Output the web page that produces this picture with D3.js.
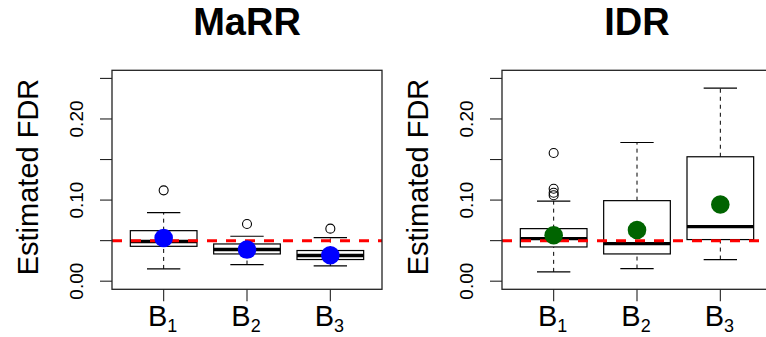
<!DOCTYPE html>
<html>
<head>
<meta charset="utf-8">
<script src="https://cdn.jsdelivr.net/npm/d3@7/dist/d3.min.js"></script>
<style>
  body { margin: 0; background: #fff; }
  text { font-family: "Liberation Sans", Arial, sans-serif; fill: #000; }
</style>
</head>
<body>
<div id="chart"></div>
<script>
var groups = ["1", "2", "3"];
var yTicks = [0, 0.05, 0.10, 0.15, 0.20, 0.25];
var yLabels = [0, 0.10, 0.20];
var target = 0.05;

// [lower whisker, q1, median, q3, upper whisker]
var marrStats = [[0.0151, 0.0430, 0.049, 0.0623, 0.0845],
                 [0.0205, 0.0336, 0.039, 0.0459, 0.0554],
                 [0.0188, 0.0267, 0.0316, 0.0378, 0.0537]];
var marrOutliers = [[0.112], [0.0705], [0.0648]];
var marrMeans = [0.0533, 0.039, 0.032];

var idrStats = [[0.0115, 0.0422, 0.0525, 0.0648, 0.0988],
                [0.0156, 0.0336, 0.0463, 0.0993, 0.171],
                [0.0267, 0.0513, 0.0673, 0.1534, 0.238]];
var idrOutliers = [[0.158, 0.114, 0.109, 0.106], [], []];
var idrMeans = [0.0566, 0.0631, 0.0946];

var width = 766, height = 337;

var svg = d3.select("#chart").append("svg")
    .attr("width", width)
    .attr("height", height);

var panels = [
  {title: "MaRR", left: 112, stats: marrStats, outliers: marrOutliers, means: marrMeans, color: "#0000ff"},
  {title: "IDR", left: 502, stats: idrStats, outliers: idrOutliers, means: idrMeans, color: "#006400"}
];

var plotTop = 70.3, plotBottom = 289.3, plotW = 270;

var y = d3.scaleLinear().domain([-0.01, 0.26]).range([plotBottom, plotTop]);

panels.forEach(p => {
  var x = d3.scaleLinear().domain([0.38, 3.62]).range([p.left, p.left + plotW]);
  var g = svg.append("g");
  var bw = x(1.4) - x(1);   // half box width (boxwex 0.8)
  var sw = x(1.2) - x(1);   // half staple width

  // y axis
  g.selectAll(".ytick").data(yTicks).join("line")
    .attr("x1", p.left - 12).attr("x2", p.left)
    .attr("y1", d => y(d)).attr("y2", d => y(d))
    .attr("stroke", "#222").attr("stroke-width", 1.1);
  g.selectAll(".ylab").data(yLabels).join("text")
    .attr("transform", d => `translate(${p.left - 29},${y(d)}) rotate(-90)`)
    .attr("text-anchor", "middle")
    .style("font-size", "19px")
    .text(d => d3.format(".2f")(d));
  g.append("text")
    .attr("transform", `translate(${p.left - 74},177) rotate(-90)`)
    .attr("text-anchor", "middle")
    .style("font-size", "29px")
    .text("Estimated FDR");

  // x axis
  g.selectAll(".xtick").data(groups).join("line")
    .attr("x1", (d, i) => x(i + 1)).attr("x2", (d, i) => x(i + 1))
    .attr("y1", plotBottom).attr("y2", plotBottom + 12)
    .attr("stroke", "#222").attr("stroke-width", 1.1);
  var xl = g.selectAll(".xlab").data(groups).join("text")
    .attr("x", (d, i) => x(i + 1) - 1)
    .attr("y", 326)
    .attr("text-anchor", "middle")
    .style("font-size", "29px");
  xl.append("tspan").text("B");
  xl.append("tspan").attr("dy", 6).style("font-size", "18px").text(d => d);

  // title
  g.append("text")
    .attr("x", x(2)).attr("y", 35)
    .attr("text-anchor", "middle")
    .style("font-size", "38px").style("font-weight", "bold")
    .text(p.title);

  // whiskers
  var box = g.selectAll(".box").data(p.stats).join("g");
  box.append("line")
    .attr("x1", (d, i) => x(i + 1)).attr("x2", (d, i) => x(i + 1))
    .attr("y1", d => y(d[0])).attr("y2", d => y(d[1]))
    .attr("stroke", "#000").attr("stroke-dasharray", "4,4");
  box.append("line")
    .attr("x1", (d, i) => x(i + 1)).attr("x2", (d, i) => x(i + 1))
    .attr("y1", d => y(d[3])).attr("y2", d => y(d[4]))
    .attr("stroke", "#000").attr("stroke-dasharray", "4,4");
  box.append("line")
    .attr("x1", (d, i) => x(i + 1) - sw).attr("x2", (d, i) => x(i + 1) + sw)
    .attr("y1", d => y(d[0])).attr("y2", d => y(d[0]))
    .attr("stroke", "#000").attr("stroke-width", 1.2);
  box.append("line")
    .attr("x1", (d, i) => x(i + 1) - sw).attr("x2", (d, i) => x(i + 1) + sw)
    .attr("y1", d => y(d[4])).attr("y2", d => y(d[4]))
    .attr("stroke", "#000").attr("stroke-width", 1.2);
  box.append("rect")
    .attr("x", (d, i) => x(i + 1) - bw)
    .attr("width", 2 * bw)
    .attr("y", d => y(d[3]))
    .attr("height", d => y(d[1]) - y(d[3]))
    .attr("fill", "#fff").attr("stroke", "#000").attr("stroke-width", 1.2);
  box.append("line")
    .attr("x1", (d, i) => x(i + 1) - bw).attr("x2", (d, i) => x(i + 1) + bw)
    .attr("y1", d => y(d[2])).attr("y2", d => y(d[2]))
    .attr("stroke", "#000").attr("stroke-width", 3.4);

  // outliers
  p.outliers.forEach((o, i) => {
    g.selectAll(".out" + i).data(o).join("circle")
      .attr("cx", x(i + 1)).attr("cy", d => y(d)).attr("r", 4.5)
      .attr("fill", "none").attr("stroke", "#000").attr("stroke-width", 1.1);
  });

  // reference line
  g.append("line")
    .attr("x1", p.left).attr("x2", p.left + plotW)
    .attr("y1", y(target)).attr("y2", y(target))
    .attr("stroke", "#ff0000").attr("stroke-width", 3)
    .attr("stroke-dasharray", "10,9");

  // means
  g.selectAll(".mean").data(p.means).join("circle")
    .attr("cx", (d, i) => x(i + 1)).attr("cy", d => y(d)).attr("r", 9.3)
    .attr("fill", p.color);

  // frame
  g.append("rect")
    .attr("x", p.left).attr("y", plotTop)
    .attr("width", plotW).attr("height", plotBottom - plotTop)
    .attr("fill", "none").attr("stroke", "#222").attr("stroke-width", 1.3);
});
</script>
</body>
</html>
